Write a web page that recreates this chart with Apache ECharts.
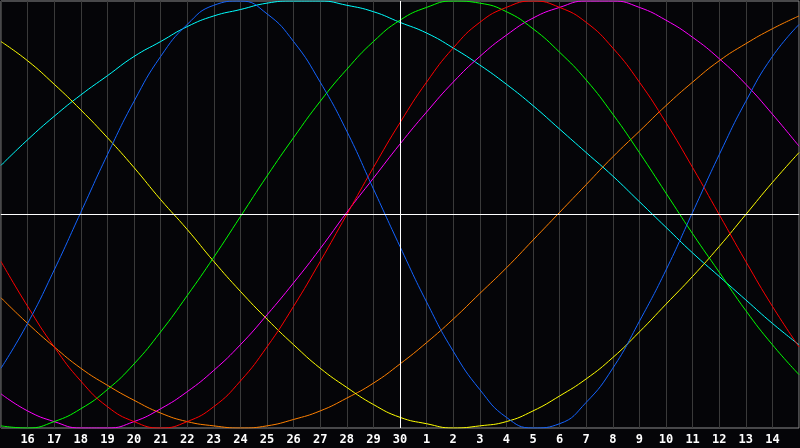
<!DOCTYPE html>
<html>
<head>
<meta charset="utf-8">
<script src="https://cdn.jsdelivr.net/npm/echarts@6/dist/echarts.min.js"></script>
<style>
html, body { margin: 0; padding: 0; background: #050508; }
#chart { width: 800px; height: 448px; }
</style>
</head>
<body>
<div id="chart"></div>
<script>
// days shown, from the 15th to the 15th of next month
var days = ['15','16','17','18','19','20','21','22','23','24','25','26','27','28','29','30',
            '1','2','3','4','5','6','7','8','9','10','11','12','13','14','15'];

// cycle values, -100 .. 100
var physical     = [-72,-51,-26,1,28,53,74,89,98,100,94,81,62,39,12,-15,-41,-64,-82,-95,-100,-98,-88,-72,-50,-26,1,28,53,74,89];
var emotional    = [-22,-43,-62,-78,-90,-97,-100,-97,-90,-78,-62,-43,-22,0,22,43,62,78,90,97,100,97,90,78,62,43,22,0,-22,-43,-62];
var intellectual = [-99,-100,-97,-91,-82,-70,-55,-38,-20,-1,18,36,53,68,81,91,97,100,99,95,87,76,63,47,29,10,-9,-27,-45,-61,-75];
var intuitive    = [-84,-92,-97,-100,-100,-97,-91,-83,-73,-61,-47,-32,-16,1,17,33,48,62,74,84,92,97,100,100,97,91,83,73,61,47,32];
var aesthetic    = [81,72,61,49,36,22,7,-7,-22,-36,-49,-61,-72,-81,-89,-95,-98,-100,-99,-97,-92,-85,-77,-67,-55,-42,-29,-15,0,15,29];
var awareness    = [-39,-51,-62,-72,-80,-87,-93,-97,-99,-100,-99,-96,-92,-86,-79,-70,-60,-49,-37,-25,-12,1,14,27,39,51,62,72,80,87,93];
var spiritual    = [23,35,46,56,65,74,81,88,93,96,99,100,100,98,95,90,85,78,70,61,51,40,29,18,6,-6,-18,-29,-40,-51,-61];

var myChart = echarts.init(document.getElementById('chart'));

function line(name, data, color) {
  return {
    name: name,
    type: 'line',
    smooth: 0.5,
    showSymbol: false,
    symbol: 'none',
    lineStyle: { color: color, width: 1 },
    data: data
  };
}

var series = [
  line('spiritual', spiritual, '#00ffff'),
  line('awareness', awareness, '#ff8000'),
  line('aesthetic', aesthetic, '#ffff00'),
  line('intuitive', intuitive, '#ff00ff'),
  line('intellectual', intellectual, '#00ff00'),
  line('emotional', emotional, '#ff0000'),
  line('physical', physical, '#1464ff')
];
// white cross: today and zero line
series[0].markLine = {
  silent: true,
  symbol: 'none',
  animation: false,
  label: { show: false },
  lineStyle: { color: '#ffffff', width: 1, type: 'solid' },
  data: [{ xAxis: '30' }, { yAxis: 0 }]
};

var option = {
  backgroundColor: '#050508',
  animation: false,
  grid: {
    left: 1, right: 1, top: 1, bottom: 20,
    show: true,
    borderColor: '#8c8c8c',
    borderWidth: 1
  },
  xAxis: {
    type: 'category',
    boundaryGap: false,
    data: days,
    axisLine: { lineStyle: { color: '#8c8c8c' } },
    axisTick: { show: false },
    axisLabel: {
      interval: function (index) { return index > 0 && index < days.length - 1; },
      color: '#ffffff',
      fontFamily: 'DejaVu Sans Mono',
      fontWeight: 'bold',
      fontSize: 12,
      margin: 6
    },
    splitLine: { show: true, interval: 0, lineStyle: { color: '#3a3a3a', width: 1 } }
  },
  yAxis: {
    type: 'value',
    min: -100,
    max: 100,
    show: false,
    splitLine: { show: false }
  },
  series: series
};

myChart.setOption(option);
</script>
</body>
</html>
